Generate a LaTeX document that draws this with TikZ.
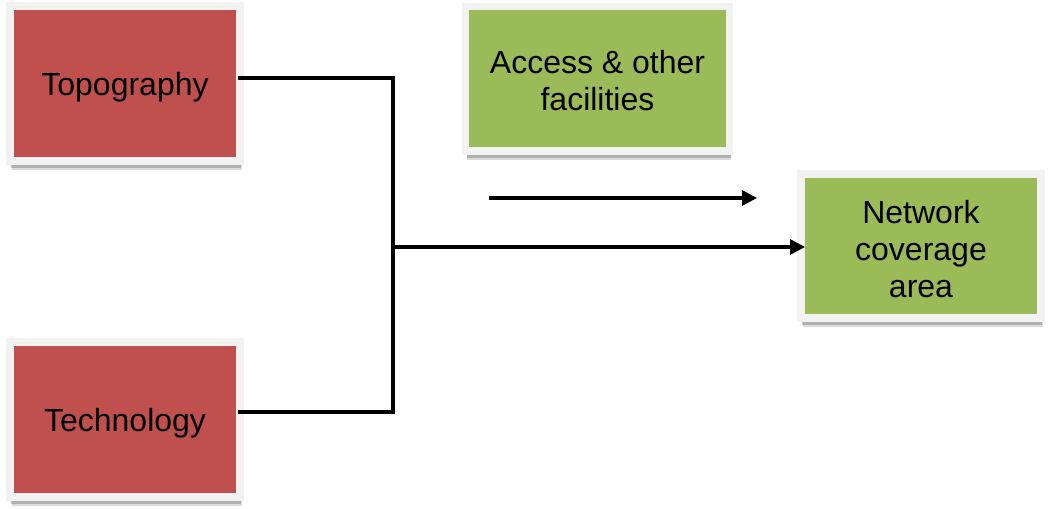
\documentclass[tikz,border=0pt]{standalone}
\usepackage{fontspec}
\setmainfont{Liberation Sans}
\usetikzlibrary{arrows.meta,shadows,calc}
\definecolor{boxred}{HTML}{C0504D}
\definecolor{boxgreen}{HTML}{9BBB59}
\definecolor{frame}{HTML}{F2F2F2}
\tikzset{
  box/.style={draw=frame, line width=7.5pt, outer sep=0pt, inner sep=0pt,
    align=center, font=\fontsize{32}{37}\selectfont, text depth=0pt,
    drop shadow={shadow xshift=1.5pt, shadow yshift=-9pt, opacity=0.2, fill=black!70},
    drop shadow={shadow xshift=1pt, shadow yshift=-7pt, opacity=0.3, fill=black!70}},
  redbox/.style={box, fill=boxred, minimum width=230pt, minimum height=155pt},
  conn/.style={line width=3.3pt, black},
  arr/.style={conn, -{Triangle[length=15pt,width=15pt]}}
}
\begin{document}
\begin{tikzpicture}[x=1pt,y=-1pt]
\useasboundingbox (0,0) rectangle (1048,508);
\node[redbox] (topo) at (125,83.5) {Topography};
\node[redbox] (tech) at (125,419.5) {Technology};
\node[box, fill=boxgreen, minimum width=264pt, minimum height=144.5pt] (acc) at (597.5,78.75) {\rule{0pt}{27pt}Access \& other\\facilities};
\node[box, fill=boxgreen, minimum width=240pt, minimum height=144pt] (net) at (921,246) {\rule{0pt}{29pt}Network\\coverage\\area};
\coordinate (jt) at (393,78);
\coordinate (jb) at (393,412);
\coordinate (jm) at (393,247);
\coordinate (fa) at (489,198);
\coordinate (fb) at (757,198);
\draw[conn, line cap=rect] (topo.east |- jt) -- (jt) -- (jb) -- (tech.east |- jb);
\draw[arr] (jm) -- (net.west |- jm) [shorten >=-4pt];
\draw[arr] (fa) -- (fb);
\end{tikzpicture}
\end{document}
